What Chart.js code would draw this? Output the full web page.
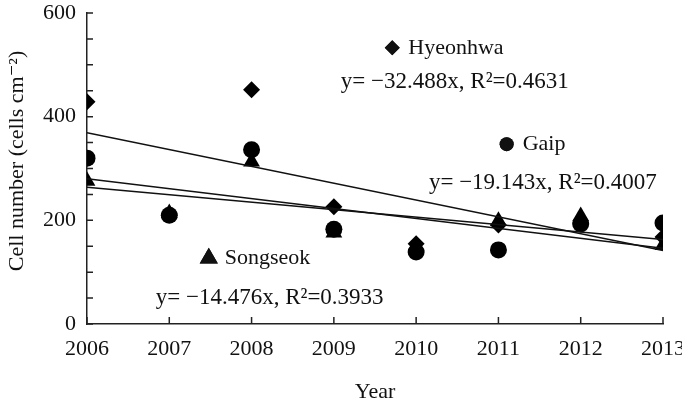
<!DOCTYPE html>
<html>
<head>
<meta charset="utf-8">
<script src="https://cdn.jsdelivr.net/npm/chart.js@4.4.0/dist/chart.umd.min.js"></script>
<style>
  html, body { margin: 0; padding: 0; background: #fff; }
  #wrap { width: 682px; height: 401px; position: relative; }
</style>
</head>
<body>
<div id="wrap"><canvas id="cellChart"></canvas></div>
<script>
// Data
const years = [2006, 2007, 2008, 2009, 2010, 2011, 2012, 2013];
const hyeonhwa = [429, 212, 452, 226, 155, 191, 195, 168];
const gaip = [320, 210, 336, 183, 139, 143, 193, 195];
const songseok = [276, 214, 313, 176, 150, 199, 208, 152];

// Trend lines (value at 2006 and at 2013)
const trendYears = [2006, 2013];
const hyeonhwaTrend = [369, 142];
const gaipTrend = [280, 146];
const songseokTrend = [264, 163];

// Axis titles
const xTitle = 'Year';
const yTitle = 'Cell number (cells cm\u207b\u00b2)';

// Labels placed inside the plot (data coordinates)
const notes = [
    { marker: 'rectRot', r: 7.5, x: 2009.71, y: 533, text: 'Hyeonhwa', eq: 'y= \u221232.488x, R\u00b2=0.4631', ex: 2010.47, ey: 467 },
    { marker: 'circle', r: 7, x: 2011.10, y: 347, text: 'Gaip', eq: 'y= \u221219.143x, R\u00b2=0.4007', ex: 2011.54, ey: 272 },
    { marker: 'triangle', r: 10.5, x: 2007.48, y: 127, text: 'Songseok', eq: 'y= \u221214.476x, R\u00b2=0.3933', ex: 2008.22, ey: 50 }
];

const FONT = '"Liberation Serif", "DejaVu Serif", serif';

function toPoints(xs, ys) {
    return xs.map((x, i) => ({ x: x, y: ys[i] }));
}

// inward tick marks, axis titles and the text notes
const decorPlugin = {
    id: 'decor',
    afterDatasetsDraw(chart) {
        const ctx = chart.ctx;
        const xs = chart.scales.x;
        const ys = chart.scales.y;
        const area = chart.chartArea;
        ctx.save();
        ctx.strokeStyle = '#222';
        ctx.lineWidth = 1.5;
        ctx.beginPath();
        for (let v = 0; v <= 600; v += 50) {
            const py = ys.getPixelForValue(v);
            ctx.moveTo(area.left, py);
            ctx.lineTo(area.left + 6, py);
        }
        years.forEach(yr => {
            const px = xs.getPixelForValue(yr);
            ctx.moveTo(px, area.bottom);
            ctx.lineTo(px, area.bottom - 7);
        });
        ctx.stroke();

        ctx.fillStyle = '#111';
        ctx.textBaseline = 'middle';
        notes.forEach(n => {
            const mx = xs.getPixelForValue(n.x);
            const my = ys.getPixelForValue(n.y);
            ctx.beginPath();
            Chart.helpers.drawPoint(ctx, { pointStyle: n.marker, radius: n.r, rotation: 0, borderWidth: 0 }, mx, my);
            ctx.fill();
            ctx.font = '22px ' + FONT;
            ctx.textAlign = 'left';
            ctx.fillText(n.text, mx + 16, my);
            ctx.font = '23px ' + FONT;
            ctx.textAlign = 'center';
            ctx.fillText(n.eq, xs.getPixelForValue(n.ex), ys.getPixelForValue(n.ey));
        });

        // axis titles
        ctx.font = '22px ' + FONT;
        ctx.textAlign = 'center';
        ctx.fillText(xTitle, (area.left + area.right) / 2, 392);
        ctx.translate(17, 161);
        ctx.rotate(-Math.PI / 2);
        ctx.fillText(yTitle, 0, 0);
        ctx.restore();
    }
};

function markerSet(label, values, style, radius) {
    return {
        type: 'scatter',
        label: label,
        data: toPoints(years, values),
        pointStyle: style,
        pointRadius: radius,
        pointBackgroundColor: '#000',
        pointBorderColor: '#000',
        pointBorderWidth: 0
    };
}

function trendSet(label, values) {
    return {
        type: 'line',
        label: label,
        data: toPoints(trendYears, values),
        borderColor: '#111',
        borderWidth: 1.5,
        pointRadius: 0,
        fill: false
    };
}

const ctx = document.getElementById('cellChart').getContext('2d');
new Chart(ctx, {
    data: {
        datasets: [
            trendSet('Hyeonhwa trend', hyeonhwaTrend),
            trendSet('Gaip trend', gaipTrend),
            trendSet('Songseok trend', songseokTrend),
            markerSet('Hyeonhwa', hyeonhwa, 'rectRot', 8.5),
            markerSet('Gaip', gaip, 'circle', 8.5),
            markerSet('Songseok', songseok, 'triangle', 9.7)
        ]
    },
    options: {
        responsive: true,
        maintainAspectRatio: false,
        animation: false,
        layout: { padding: { top: 13, right: 19, left: 0, bottom: 0 } },
        plugins: {
            legend: { display: false },
            tooltip: { enabled: false }
        },
        scales: {
            x: {
                type: 'linear',
                min: 2006,
                max: 2013,
                ticks: {
                    stepSize: 1,
                    padding: 12,
                    color: '#111',
                    font: { family: FONT, size: 22 },
                    callback: v => String(v)
                },
                grid: { drawOnChartArea: false, drawTicks: false, color: '#222' },
                border: { color: '#222', width: 1.5 },
                afterFit: scale => {
                    scale.height = 77;
                    scale.paddingLeft = 0;
                    scale.paddingRight = 0;
                }
            },
            y: {
                min: 0,
                max: 600,
                ticks: {
                    stepSize: 200,
                    padding: 11,
                    color: '#111',
                    font: { family: FONT, size: 22 }
                },
                grid: { drawOnChartArea: false, drawTicks: false, color: '#222' },
                border: { color: '#222', width: 1.5 },
                afterFit: scale => {
                    scale.width = 87;
                    scale.paddingTop = 0;
                    scale.paddingBottom = 0;
                }
            }
        }
    },
    plugins: [decorPlugin]
});
</script>
</body>
</html>
